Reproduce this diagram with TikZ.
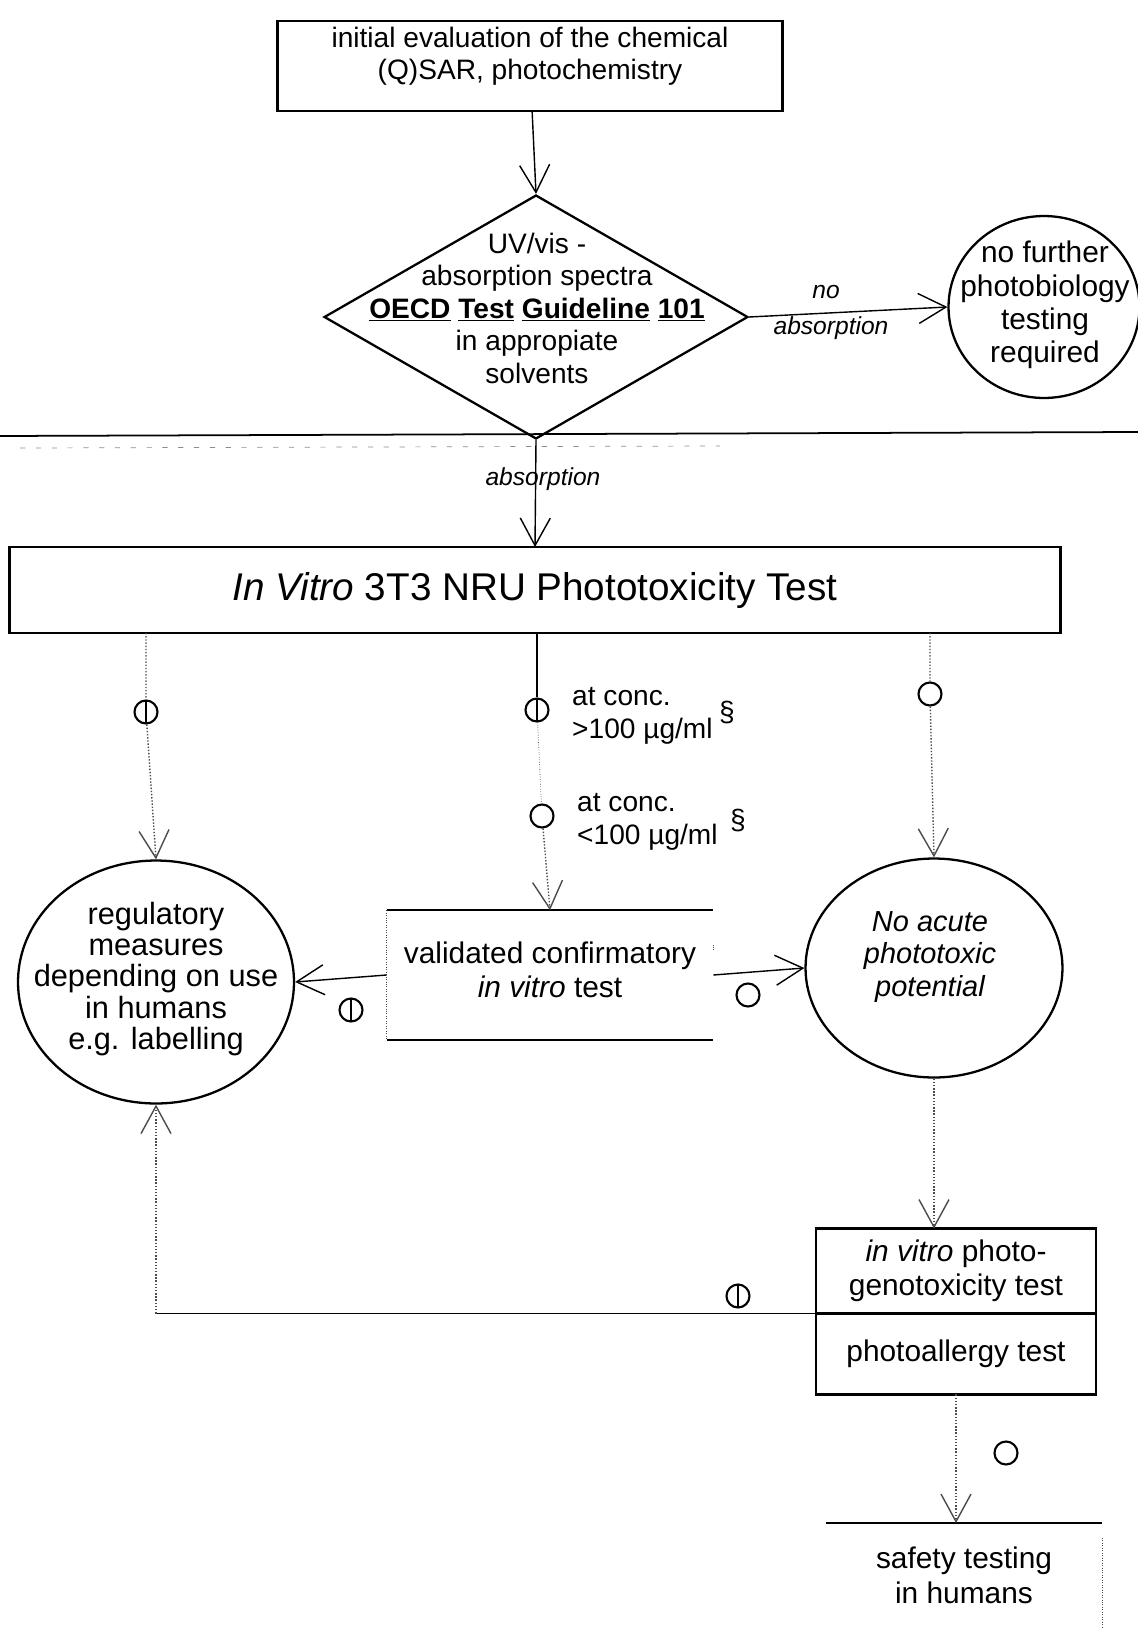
\documentclass[tikz,border=0pt]{standalone}
\usepackage{fontspec}
\setmainfont{Liberation Sans}
\usetikzlibrary{shapes.geometric}
\usetikzlibrary{arrows.meta}

\begin{document}
\begin{tikzpicture}[
            x=0.02cm, y=-0.02cm,
            txt/.style={font=\fontsize{16}{18.5}\selectfont, align=center},
            box/.style={txt, draw, line width=1.3pt, inner sep=0pt, outer sep=0pt},
            oval/.style={ellipse, draw, line width=1.3pt, inner sep=0pt},
            lbl/.style={font=\itshape\fontsize{14}{16}\selectfont},
            wire/.style={line width=.8pt},
            arr/.style={wire, -{Straight Barb[length=5.5mm, width=6mm]}},
            faint/.style={densely dotted, draw=black!70},
            plusmark/.style={circle, draw, line width=1.2pt, minimum size=.46cm, inner sep=0pt,
                path picture={\draw[line width=1.2pt] (path picture bounding box.north) -- (path picture bounding box.south);}},
            minusmark/.style={circle, draw, line width=1.2pt, minimum size=.46cm, inner sep=0pt},
        ]
            \useasboundingbox (0,0) rectangle (1138,1629);

            % screening of the chemical
            \node[box, minimum width=10.1cm, minimum height=1.8cm] (chem) at (530,66) {};
            \node[txt] (chemtxt) at (530,56) {initial evaluation of the chemical\\(Q)SAR, photochemistry};
            \node[diamond, draw, line width=1.3pt, minimum width=8.48cm, minimum height=4.88cm, inner sep=0pt] (uvvis) at (536,317) {};
            \node[txt] (uvtxt) at (537,308)
                {UV/vis -\\absorption spectra\\\textbf{\underline{OECD} \underline{Test} \underline{Guideline} \underline{101}}\\in appropiate\\solvents};
            \node[oval, minimum width=3.82cm, minimum height=3.64cm] (nofurther) at (1044,307) {};
            \node[txt, font=\fontsize{17}{19}\selectfont] (nofurthertxt) at (1045,305)
                {no further\\photobiology\\testing\\required};

            \draw[arr] (chem) -- (uvvis.north);
            \draw[arr] (uvvis.east) -- (nofurther.west);
            \node[lbl] (noabs1) at (826,292) {no};
            \node[lbl] (noabs2) at (831,328) {absorption};

            % separator
            \draw[line width=1pt] (0,436) -- (1138,432);
            \draw[draw=black!45, dash pattern=on 3pt off 6pt] (20,448) -- (720,446);

            % 3T3 NRU test
            \node[box, minimum width=21.02cm, minimum height=1.72cm, font=\fontsize{22}{26}\selectfont] (nru) at (535,590)
                {\textit{In Vitro} 3T3 NRU Phototoxicity Test};
            \draw[arr] (uvvis.south) -- (nru.north);
            \node[lbl] (absorb) at (543,479) {absorption};

            % outcomes
            \node[oval, minimum width=5.52cm, minimum height=4.86cm] (reg) at (156,982) {};
            \node[txt, font=\fontsize{17.5}{17.8}\selectfont] (regtxt) at (156,979)
                {regulatory\\measures\\depending on use\\in humans\\e.g. labelling};
            \node[txt, minimum width=6.52cm, minimum height=2.58cm, inner sep=0pt, font=\fontsize{17}{19.5}\selectfont] (valid) at (550,975) {};
            \node[txt, font=\fontsize{17}{19.5}\selectfont] (validtxt) at (550,970) {validated confirmatory\\\textit{in vitro} test};
            \draw[line width=1.3pt] (valid.north west) -- (valid.north east);
            \draw[line width=1.3pt] (valid.south west) -- (valid.south east);
            \draw[faint] (valid.north west) -- (valid.south west);
            \draw[faint] ([yshift=-0.8cm]valid.north east) -- ([yshift=0.6cm]valid.east);
            \node[oval, minimum width=5.14cm, minimum height=4.38cm] (noacute) at (934,968) {};
            \node[txt, font=\itshape\fontsize{16.5}{18.5}\selectfont] (noacutetxt) at (930,957)
                {No acute\\phototoxic\\potential};

            \node[plusmark] (plusA) at (146,712) {};
            \node[plusmark] (plusB) at (537,710) {};
            \node[minusmark] (minusB) at (542,816) {};
            \node[minusmark] (minusC) at (930,694) {};
            \node[txt, anchor=west, align=left] (conchi) at (566,716) {at conc.\\>100 µg/ml};
            \node[txt, anchor=west, align=left] (conclo) at (571,822) {at conc.\\<100 µg/ml};
            \node[txt] (sect1) at (727,712) {§};
            \node[txt] (sect2) at (738,820) {§};

            \draw[arr, faint] (nru.south -| plusA) -- (plusA) -- (reg.north);
            \draw[wire] (nru.south -| plusB) -- (plusB);
            \draw[faint] (plusB) -- (minusB);
            \draw[arr, faint] (minusB) -- (valid.north);
            \draw[arr, faint] (nru.south -| minusC) -- (minusC) -- (noacute.north);

            \draw[arr] (valid.west) -- (reg.east);
            \draw[arr] (valid.east) -- (noacute.west);
            \node[plusmark] (plusD) at (351,1010) {};
            \node[minusmark] (minusD) at (748,995) {};

            % follow-up tests
            \node[box, minimum width=5.6cm, minimum height=1.7cm, font=\fontsize{17}{19.5}\selectfont] (geno) at (956,1271)
                {\textit{in vitro} photo-\\genotoxicity test};
            \node[box, minimum width=5.6cm, minimum height=1.62cm, anchor=north, font=\fontsize{17}{19.5}\selectfont] (allergy) at (geno.south)
                {photoallergy test};
            \draw[arr, faint] (noacute.south) -- (noacute.south |- geno.north);

            \coordinate (turn) at (reg.south |- geno.south west);
            \draw[wire] (geno.south west) -- (turn);
            \draw[arr, faint] (turn) -- (reg.south);
            \node[plusmark] (plusE) at (738,1296) {};

            \node[txt, minimum width=5.52cm, minimum height=2.08cm, anchor=north, inner sep=0pt, font=\fontsize{17}{19.5}\selectfont] (safety) at (964,1523)
                {safety testing\\in humans};
            \draw[line width=1pt] (safety.north west) -- (safety.north east);
            \draw[faint] ([yshift=-0.3cm]safety.north east) -- (safety.south east);
            \draw[arr, faint] (allergy.south) -- (allergy.south |- safety.north);
            \node[minusmark] (minusE) at (1006,1453) {};
        \end{tikzpicture}
\end{document}
